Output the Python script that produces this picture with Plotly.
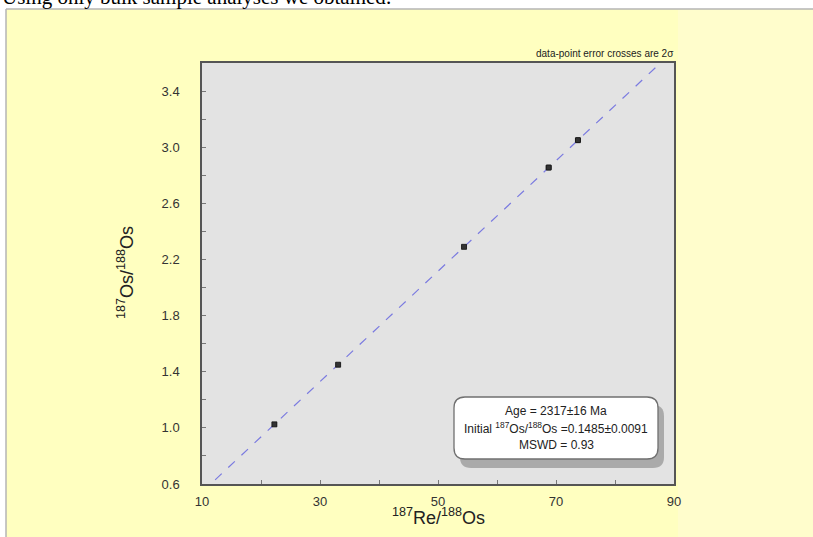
import numpy as np
import plotly.graph_objects as go

# ---- data ----
re_os = [22.27, 33.07, 54.41, 68.76, 73.72]       # 187Re/188Os
os_os = [1.025, 1.450, 2.290, 2.855, 3.050]       # 187Os/188Os
err_x = [0.3, 0.3, 0.3, 0.4, 0.4]                 # 2 sigma
err_y = [0.008, 0.008, 0.010, 0.016, 0.016]
age_ma = 2317
initial_ratio = 0.1485
lambda_re = 1.666e-11
x_ticks = [10, 30, 50, 70, 90]
y_ticks = [0.6, 1.0, 1.4, 1.8, 2.2, 2.6, 3.0, 3.4]
line_x = [10, 90]

slope = np.exp(lambda_re * age_ma * 1e6) - 1
line_y = [initial_ratio + slope * v for v in line_x]

W, H = 813, 537
L, R, T, B = 202, 674, 63, 484


def px(xp):
    return (xp - L) / (R - L)


def py(yp):
    return (B - yp) / (B - T)


def rounded(x0, y0, x1, y1, r):
    def P(a, b):
        return f"{px(a):.5f},{py(b):.5f}"
    return (f"M{P(x0 + r, y0)} L{P(x1 - r, y0)} Q{P(x1, y0)} {P(x1, y0 + r)} "
            f"L{P(x1, y1 - r)} Q{P(x1, y1)} {P(x1 - r, y1)} L{P(x0 + r, y1)} "
            f"Q{P(x0, y1)} {P(x0, y1 - r)} L{P(x0, y0 + r)} Q{P(x0, y0)} {P(x0 + r, y0)} Z")


fig = go.Figure()
fig.add_trace(go.Scatter(x=line_x, y=line_y, mode="lines",
                         line=dict(color="#7a7ae0", width=1.2, dash="dash"),
                         hoverinfo="skip", showlegend=False))
fig.add_trace(go.Scatter(x=re_os, y=os_os, mode="markers",
                         marker=dict(symbol="square", size=5, color="#333333",
                                     line=dict(color="#111111", width=0.8)),
                         error_x=dict(type="data", array=err_x, color="#222222", thickness=1, width=2),
                         error_y=dict(type="data", array=err_y, color="#222222", thickness=1, width=2),
                         showlegend=False))

shapes = [
    dict(type="rect", xref="paper", yref="paper", x0=px(0), x1=px(6), y0=py(W), y1=py(0),
         fillcolor="white", line_width=0, layer="below"),
    dict(type="rect", xref="paper", yref="paper", x0=px(0), x1=px(W), y0=py(9), y1=py(-5),
         fillcolor="white", line_width=0, layer="below"),
    dict(type="rect", xref="paper", yref="paper", x0=px(678), x1=px(W + 5), y0=py(H + 5), y1=py(9.5),
         fillcolor="#fffdcc", line_width=0, layer="below"),
    dict(type="line", xref="paper", yref="paper", x0=px(6), x1=px(6), y0=py(H + 5), y1=py(9),
         line=dict(color="#b5b5b5", width=1.5)),
    dict(type="line", xref="paper", yref="paper", x0=px(6), x1=px(W + 5), y0=py(9), y1=py(9),
         line=dict(color="#b5b5b5", width=1.5)),
    dict(type="path", xref="paper", yref="paper", path=rounded(460, 405, 664, 468, 11),
         fillcolor="#a0a0a0", line_width=0, opacity=0.85),
    dict(type="path", xref="paper", yref="paper", path=rounded(454, 397, 658, 459, 11),
         fillcolor="white", line=dict(color="#707070", width=1.3)),
]

title_font = dict(family="Liberation Sans", size=18, color="#222222")
annots = [
    dict(text="Using only bulk sample analyses we obtained:", xref="paper", yref="paper",
         x=px(0), y=py(-3), xanchor="left", yanchor="middle", showarrow=False,
         font=dict(family="Liberation Serif", size=21, color="black")),
    dict(text="data-point error crosses are 2σ", xref="paper", yref="paper",
         x=px(676), y=py(54), xanchor="right", yanchor="middle", showarrow=False,
         font=dict(family="Liberation Sans Narrow, Liberation Sans", size=10, color="#222222")),
    dict(text=f"Age = {age_ma}±16 Ma", xref="paper", yref="paper",
         x=px(556), y=py(411), xanchor="center", yanchor="middle", showarrow=False,
         font=dict(family="Liberation Sans", size=12, color="#222222")),
    dict(text=f"Initial <sup>187</sup>Os/<sup>188</sup>Os ={initial_ratio:.4f}±0.0091",
         xref="paper", yref="paper",
         x=px(556), y=py(428), xanchor="center", yanchor="middle", showarrow=False,
         font=dict(family="Liberation Sans", size=12, color="#222222")),
    dict(text="MSWD = 0.93", xref="paper", yref="paper",
         x=px(556), y=py(445), xanchor="center", yanchor="middle", showarrow=False,
         font=dict(family="Liberation Sans", size=12, color="#222222")),
    dict(text="<sup>187</sup>Re/<sup>188</sup>Os", xref="paper", yref="paper",
         x=px(438), y=py(516), xanchor="center", yanchor="middle", showarrow=False,
         font=title_font),
    dict(text="<sup>187</sup>Os/<sup>188</sup>Os", xref="paper", yref="paper", textangle=-90,
         x=px(125), y=py(273), xanchor="center", yanchor="middle", showarrow=False,
         font=title_font),
]

fig.update_layout(
    width=W, height=H,
    margin=dict(l=L, r=W - R, t=T, b=H - B, pad=0),
    paper_bgcolor="#ffffc0",
    plot_bgcolor="#e3e3e3",
    shapes=shapes,
    annotations=annots,
    xaxis=dict(range=[10, 90], tickmode="array", tickvals=x_ticks, automargin=False,
               ticks="inside", ticklen=4, tickcolor="#777777", ticklabelstandoff=5,
               minor=dict(dtick=10, tick0=10, ticks="inside", ticklen=4, tickcolor="#777777", showgrid=False),
               showgrid=False, zeroline=False, showline=True, mirror=True,
               linecolor="#555555", linewidth=1.5,
               tickfont=dict(family="Liberation Sans", size=13, color="#333333")),
    yaxis=dict(range=[0.6, 3.6], tickmode="array", tickvals=y_ticks, tickformat=".1f", automargin=False,
               ticks="inside", ticklen=4, tickcolor="#777777", ticklabelstandoff=18,
               minor=dict(dtick=0.2, tick0=0.6, ticks="inside", ticklen=4, tickcolor="#777777", showgrid=False),
               showgrid=False, zeroline=False, showline=True, mirror=True,
               linecolor="#555555", linewidth=1.5,
               tickfont=dict(family="Liberation Sans", size=13, color="#333333")),
)

fig.write_html("out.html")
